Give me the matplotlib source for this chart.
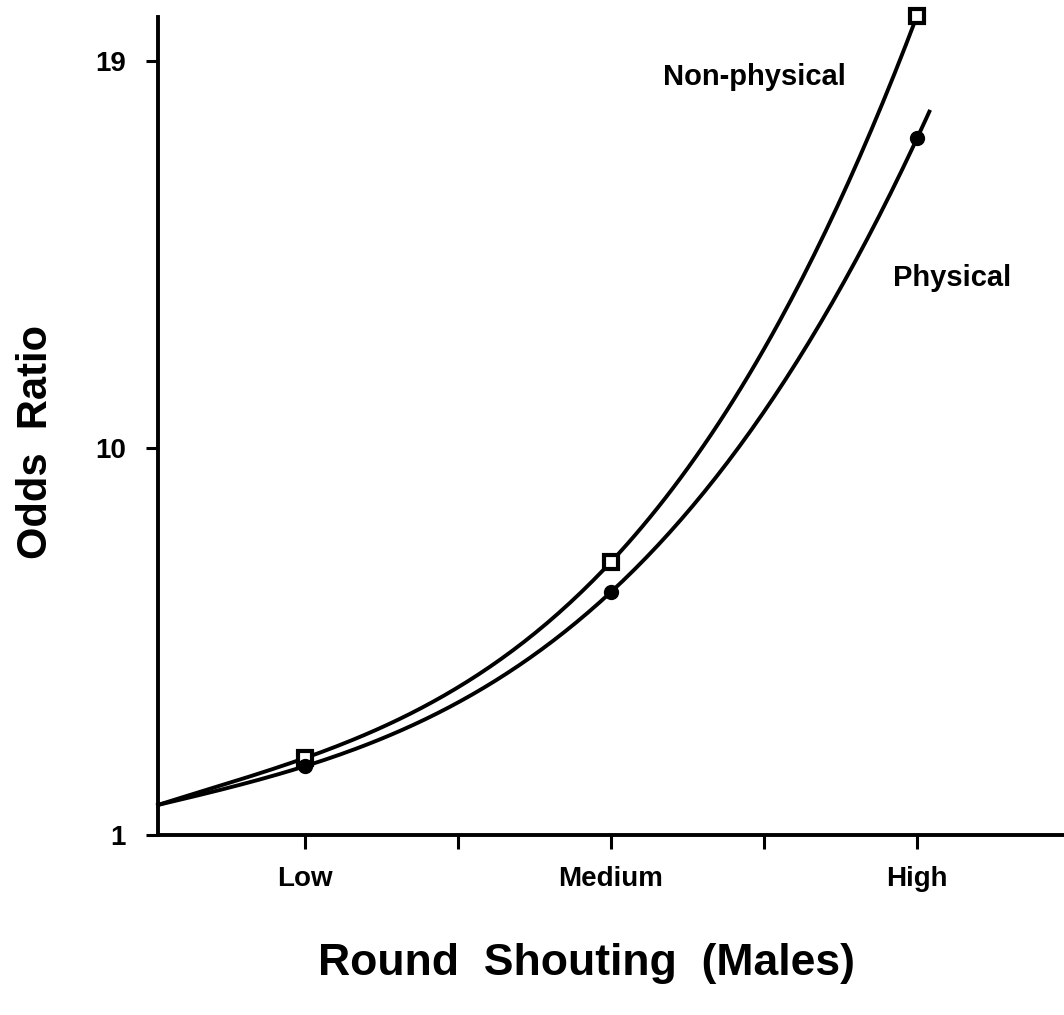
import numpy as np
import matplotlib
matplotlib.use("Agg")
import matplotlib.pyplot as plt

plt.rcParams['font.family'] = ['Liberation Sans', 'DejaVu Sans']

# data
levels = ["Low", "Medium", "High"]
level_x = [1, 2, 3]
start_x = 0.52
start_or = 1.7
nonphysical = [2.79, 7.35, 20.05]
physical = [2.60, 6.65, 17.2]


def fit_curve(ys, x_end):
    # smooth curve through the start point and the three odds ratios
    xs = [start_x] + level_x
    coef = np.polyfit(xs, [start_or] + ys, 3)
    xx = np.linspace(start_x, x_end, 200)
    return xx, np.polyval(coef, xx)


fig = plt.figure(figsize=(10.64, 10.15), dpi=100)
ax = fig.add_axes([0.1485, 0.1773, 0.8515, 0.806])

xx, yy = fit_curve(nonphysical, 3.0)
ax.plot(xx, yy, color="black", lw=2.8, clip_on=False)
ax.plot(level_x, nonphysical, ls="none", marker="s", ms=10, mfc="white",
        mec="black", mew=3, zorder=3, clip_on=False)

xx, yy = fit_curve(physical, 3.04)
ax.plot(xx, yy, color="black", lw=2.8)
ax.plot(level_x, physical, ls="none", marker="o", ms=10, color="black", zorder=3)

ax.text(2.17, 18.63, "Non-physical", fontsize=21, fontweight="bold", va="center")
ax.text(2.92, 13.95, "Physical", fontsize=21, fontweight="bold", va="center")

ax.set_xlim(0.52, 3.48)
ax.set_ylim(1, 20.02)
ax.set_xticks(level_x)
ax.set_xticklabels(levels)
ax.set_xticks([1.5, 2.5], minor=True)
ax.set_yticks([1, 10, 19])

for s in ["top", "right"]:
    ax.spines[s].set_visible(False)
for s in ["left", "bottom"]:
    ax.spines[s].set_linewidth(2.8)

ax.tick_params(axis="both", which="both", direction="out", width=2.2,
               labelsize=20, color="black")
ax.tick_params(axis="x", which="both", length=10, pad=12)
ax.tick_params(axis="y", length=9, pad=14)
for lab in ax.get_xticklabels() + ax.get_yticklabels():
    lab.set_fontweight("bold")

ax.set_xlabel("Round  Shouting  (Males)", fontsize=32, fontweight="bold",
              va="center")
ax.xaxis.set_label_coords(0.4735, -0.1565)
ax.set_ylabel("Odds  Ratio", fontsize=30, fontweight="bold", va="center")
ax.yaxis.set_label_coords(-0.1347, 0.48)

fig.savefig("out.png", dpi=100)
